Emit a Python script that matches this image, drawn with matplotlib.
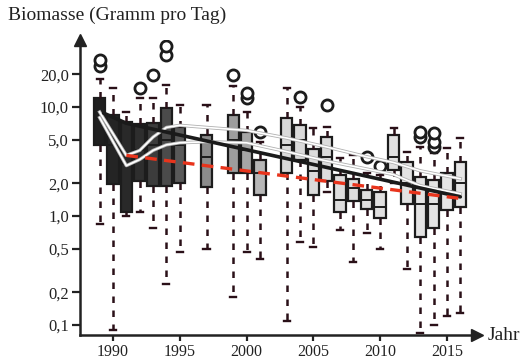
import numpy as np
import matplotlib
matplotlib.use("Agg")
import matplotlib.pyplot as plt
import matplotlib.patheffects as pe

plt.rcParams['font.family'] = ['Liberation Serif', 'DejaVu Serif']

# box statistics per year
jahre = [1989, 1990, 1991, 1992, 1993, 1994, 1995, 1997, 1999, 2000, 2001,
         2003, 2004, 2005, 2006, 2007, 2008, 2009, 2010, 2011, 2012, 2013,
         2014, 2015, 2016]
unten = [0.85, 0.09, 1.0, 1.1, 0.77, 0.24, 0.47, 0.5, 0.18, 0.47, 0.4,
         0.11, 0.58, 0.52, 1.66, 0.74, 0.38, 0.7, 0.5, 2.0, 0.33, 0.085,
         0.1, 0.12, 0.13]
q1 = [4.5, 1.95, 1.1, 2.1, 1.9, 1.9, 2.0, 1.85, 2.5, 2.5, 1.56,
      2.5, 3.3, 1.55, 2.1, 1.08, 1.38, 1.15, 0.96, 2.65, 1.3, 0.64,
      0.78, 1.13, 1.2]
median = [8.0, 4.5, 3.0, 4.0, 4.5, 5.0, 4.5, 3.5, 5.0, 4.0, 2.5,
          4.5, 5.0, 2.6, 3.5, 1.4, 1.8, 1.4, 1.2, 3.5, 2.0, 1.3,
          1.3, 1.7, 2.0]
q3 = [12.0, 8.4, 7.3, 7.0, 7.1, 9.8, 6.6, 5.5, 8.4, 5.9, 3.3,
      7.9, 6.8, 4.1, 5.3, 2.4, 2.2, 1.75, 1.65, 5.5, 3.1, 2.3,
      2.14, 2.5, 3.1]
oben = [18.0, 15.0, 9.0, 12.0, 12.0, 16.0, 10.4, 10.4, 15.5, 9.0, 4.8,
        15.0, 10.0, 6.4, 6.5, 3.4, 3.6, 2.5, 2.4, 6.4, 3.9, 4.3,
        3.8, 4.2, 5.2]
ausreisser = [[24, 27], [], [], [15], [19.6], [30, 36], [], [], [19.6],
              [12, 13.5], [5.9], [], [12.3], [], [10.4], [], [], [3.5],
              [2.9], [], [], [5.3, 5.9], [4.3, 4.8, 5.8], [], []]

# trend lines
trend_jahre = [1989.3, 1991, 2016]
trend_werte = [8.8, 7.1, 1.5]
rot_jahre = [1991, 2016]
rot_werte = [3.6, 1.45]
band_jahre = [1989, 1991, 1992, 1993, 1994, 1995, 1997, 2000, 2003, 2006,
              2009, 2011, 2013, 2016]
band_oben = [9.0, 3.6, 4.0, 5.3, 6.5, 6.8, 6.5, 6.1, 5.2, 4.3, 3.5, 3.1,
             2.6, 2.2]
band_unten = [8.0, 2.9, 3.3, 4.0, 4.5, 4.7, 4.8, 4.7, 3.9, 3.2, 2.7, 2.4,
              1.9, 1.6]

ytick_werte = [0.1, 0.2, 0.5, 1, 2, 5, 10, 20]
ytick_text = ['0,1', '0,2', '0,5', '1,0', '2,0', '5,0', '10,0', '20,0']
xtick_jahre = [1990, 1995, 2000, 2005, 2010, 2015]

fig = plt.figure(figsize=(5.27, 3.61), dpi=100)
ax = fig.add_axes([80 / 527, 1 - 335 / 361, (477 - 80) / 527, (335 - 40) / 361])
ax.set_yscale('log')

stats = []
for i in range(len(jahre)):
    stats.append(dict(whislo=unten[i], q1=q1[i], med=median[i], q3=q3[i],
                      whishi=oben[i], fliers=ausreisser[i]))

dunkel = '#1c1c1c'
res = ax.bxp(stats, positions=jahre, widths=0.85, patch_artist=True,
             capwidths=0.45, manage_ticks=False,
             boxprops=dict(edgecolor=dunkel, linewidth=1.6),
             whiskerprops=dict(color='#2a1018', linewidth=1.8,
                               linestyle=(0, (2.6, 3.0))),
             capprops=dict(color='#2a1018', linewidth=1.7),
             medianprops=dict(color=dunkel, linewidth=1.4),
             flierprops=dict(marker='o', markerfacecolor='white',
                             markeredgecolor=dunkel, markersize=8,
                             markeredgewidth=2.0))

grau = np.interp(jahre, [1989, 1992, 1995, 1997, 2000, 2003, 2016],
                 [0.12, 0.18, 0.35, 0.55, 0.65, 0.85, 0.9])
for box, g in zip(res['boxes'], grau):
    box.set_facecolor((g, g, g))

rand = [pe.Stroke(linewidth=2.4, foreground='#b0b0b0'), pe.Normal()]
ax.plot(band_jahre, band_oben, color='white', lw=1.2, zorder=3,
        path_effects=rand)
ax.plot(band_jahre, band_unten, color='white', lw=1.2, zorder=3,
        path_effects=rand)
ax.plot(trend_jahre, trend_werte, color='#1a1a1a', lw=2.6, zorder=4,
        solid_capstyle='round')
ax.plot(rot_jahre, rot_werte, color='#e8341c', lw=2.4, zorder=5,
        linestyle=(0, (3.5, 2.2)))

ax.set_xlim(1987.53, 2017.25)
ax.set_ylim(0.0811, 41.2)

ax.set_yticks(ytick_werte)
ax.set_yticklabels(ytick_text)
ax.yaxis.set_minor_locator(matplotlib.ticker.NullLocator())
ax.set_xticks(xtick_jahre)
ax.set_xticklabels([str(j) for j in xtick_jahre])
ax.tick_params(axis='both', direction='out', width=1.6, colors='#222222',
               labelsize=11.5, labelcolor='#222222')
ax.tick_params(axis='y', length=6, pad=2, labelsize=12)
ax.tick_params(axis='x', length=4.5, pad=2)

for s in ['top', 'right']:
    ax.spines[s].set_visible(False)
for s in ['left', 'bottom']:
    ax.spines[s].set_linewidth(1.8)
    ax.spines[s].set_color('#222222')

ax.plot(0, 1, '^', color='#222222', ms=8, transform=ax.transAxes,
        clip_on=False)
ax.plot(1, 0, '>', color='#222222', ms=8, transform=ax.transAxes,
        clip_on=False)

ax.text(1.028, 0, 'Jahr', transform=ax.transAxes, fontsize=14,
        va='center', ha='left', color='#222222')
fig.text(8 / 527, 1 - 15 / 361, 'Biomasse (Gramm pro Tag)', fontsize=14,
         va='center', ha='left', color='#222222')

fig.savefig('out.png', dpi=100)
